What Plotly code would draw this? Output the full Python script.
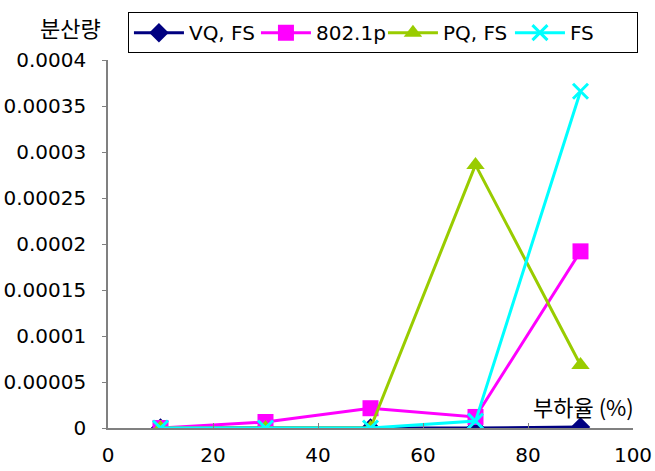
import plotly.graph_objects as go

load = [10, 30, 50, 70, 90]
vq_fs = [0.0, 0.0, 0.0, 0.0, 0.000001]
p8021 = [0.0, 0.0000065, 0.0000215, 0.000012, 0.000192]
pq_fs = [0.0, 0.0, 0.0, 0.000286, 0.0000685]
fs = [0.0, 0.0, 0.0, 0.0000075, 0.000366]
x_ticks = [0, 20, 40, 60, 80, 100]
y_ticks = [0, 0.00005, 0.0001, 0.00015, 0.0002, 0.00025, 0.0003, 0.00035, 0.0004]
y_labels = ["0", "0.00005", "0.0001", "0.00015", "0.0002", "0.00025", "0.0003", "0.00035", "0.0004"]

FONT = "DejaVu Sans, Noto Sans CJK KR"
KFONT = "Noto Sans CJK KR"

series = [
    ("VQ, FS", vq_fs, "#000080", "diamond", 15),
    ("802.1p", p8021, "#FF00FF", "square", 16),
    ("PQ, FS", pq_fs, "#99CC00", "triangle-up", 16),
    ("FS", fs, "#00FFFF", "x-thin", 15),
]

fig = go.Figure()
for name, vals, color, sym, sz in series:
    marker = dict(symbol=sym, size=sz, color=color)
    if sym == "x-thin":
        marker["line"] = dict(color=color, width=3)
    fig.add_trace(go.Scatter(x=load, y=vals, name=name, mode="lines+markers",
                             line=dict(color=color, width=3), marker=marker))

fig.update_layout(
    width=655, height=471,
    margin=dict(l=108, r=22, t=60, b=43),
    paper_bgcolor="white", plot_bgcolor="white",
    font=dict(family=FONT, size=20, color="black"),
    showlegend=True,
    legend=dict(orientation="h", x=0.038, y=1.13, xanchor="left", yanchor="top",
                bordercolor="black", borderwidth=1, font=dict(family=FONT, size=20),
                entrywidth=62, entrywidthmode="pixels", itemwidth=50, tracegroupgap=0),
    xaxis=dict(range=[0, 100], tickvals=x_ticks, ticks="inside", ticklen=5,
               tickcolor="#808080", showline=True, linecolor="#808080", linewidth=1.5,
               showgrid=False, zeroline=False, ticklabelstandoff=8, automargin=False,
               tickfont=dict(family=FONT, size=20)),
    yaxis=dict(range=[0, 0.0004], tickvals=y_ticks, ticktext=y_labels, ticks="outside",
               ticklen=4, tickcolor="#808080", showline=True, linecolor="#808080",
               linewidth=1.5, showgrid=False, zeroline=False, ticklabelstandoff=12,
               automargin=False, tickfont=dict(family=FONT, size=20)),
    annotations=[
        dict(text="분산량", x=-0.072, y=1.09, xref="paper", yref="paper",
             xanchor="center", yanchor="middle",
             showarrow=False, font=dict(family=KFONT, size=22)),
        dict(text="부하율 (%)", x=0.905, y=0.06, xref="paper", yref="paper",
             xanchor="center", yanchor="middle",
             showarrow=False, font=dict(family=KFONT, size=22)),
    ],
)

fig.write_html("out.html")
